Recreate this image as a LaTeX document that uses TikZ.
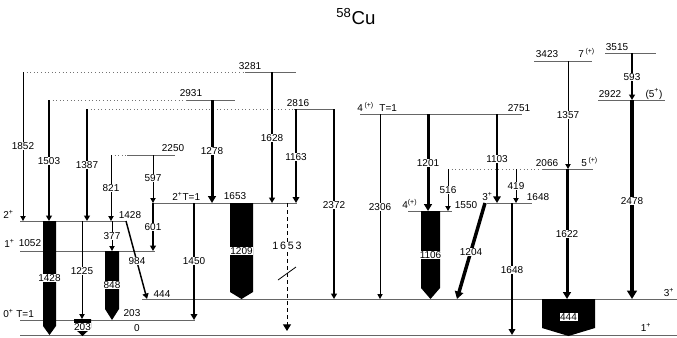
\documentclass[tikz,border=0pt]{standalone}
\usepackage{fontspec}
\setmainfont{Liberation Sans}
\usetikzlibrary{arrows.meta}
\newcommand\mylbl{\fontsize{7.5}{8}\selectfont}
\tikzset{
  lev/.style={draw=black!60, line width=0.7pt},
  ext/.style={draw=black!55, dotted, line width=0.7pt},
  tr/.style={-{Triangle[length=3pt 1.0, width=3pt 1.3]}},
  tl/.style={fill=white, inner sep=0.5pt, font=\mylbl},
  ll/.style={inner sep=0pt, font=\mylbl},
}
\newcommand\tra[6]{\draw[tr,line width=#6] (#1,#2) -- (#1,#3); \node[tl] (g#4) at (#1,#5) {#4};}
\newcommand\fatarr[5]{\fill (#1,#3) -- (#2,#3) -- (#2,#4) -- ({(#1+#2)/2},#5) -- (#1,#4) -- cycle;}
\begin{document}
\begin{tikzpicture}[x=0.75pt,y=-0.75pt]
\useasboundingbox (0,0) rectangle (677,337);
% title
\node[inner sep=0pt, anchor=base, font=\fontsize{14}{15}\selectfont] (title) at (356,24) {\textsuperscript{58}Cu};
% levels
\draw[lev] (20,335) -- (677,335);
\draw[lev] (20,320) -- (195,320);
\draw[lev] (142,299) -- (677,299);
\draw[lev] (20,251) -- (155,251);
\draw[lev] (20,221) -- (126,221);
\draw[lev] (153,203) -- (297,203);
\draw[lev] (408,211) -- (452,211);
\draw[lev] (487,203) -- (532,203);
\draw[ext] (448,169) -- (543,169); \draw[lev] (543,169) -- (593,169);
\draw[ext] (111,155) -- (127,155); \draw[lev] (127,155) -- (175,155);
\draw[lev] (360,114) -- (522,114);
\draw[ext] (87,109) -- (294,109); \draw[lev] (294,109) -- (334,109);
\draw[ext] (49,100) -- (187,100); \draw[lev] (187,100) -- (235,100);
\draw[ext] (23,72) -- (245,72); \draw[lev] (245,72) -- (296,72);
\draw[lev] (598,100) -- (665,100);
\draw[lev] (534,61) -- (592,61);
\draw[lev] (605,53) -- (656,53);
% level labels
\node[ll] (e3281) at (250,66) {3281};
\node[ll] (e2931) at (191,93) {2931};
\node[ll] (e2816) at (298,103) {2816};
\node[ll] (e2250) at (173,148) {2250};
\node[ll] (e2751) at (519,108) {2751};
\node[ll, anchor=west] (s2751) at (357,107) {4\,\textsuperscript{(+)}\ \ T=1};
\node[ll] (e2066) at (547,163) {2066};
\node[ll, anchor=west] (s2066) at (581,162) {5\,\textsuperscript{(+)}};
\node[ll] (e1550) at (466,205) {1550};
\node[ll, anchor=west] (s1550) at (402,204) {4\textsuperscript{(+)}};
\node[ll, anchor=west] (s1648) at (482,197) {3\textsuperscript{+}};
\node[ll] (e1648) at (538,197) {1648};
\node[ll] (e3423) at (547,54) {3423};
\node[ll, anchor=west] (s3423) at (578,53) {7\,\textsuperscript{(+)}};
\node[ll] (e3515) at (617,47) {3515};
\node[ll] (e2922) at (610,94) {2922};
\node[ll] (s2922) at (654,94) {(5\textsuperscript{+})};
\node[ll] (e1653) at (235,196) {1653};
\node[ll, anchor=west] (s1653) at (172,196) {2\textsuperscript{+}T=1};
\node[ll] (e1428) at (130,215) {1428};
\node[ll, anchor=west] (s1428) at (3,214) {2\textsuperscript{+}};
\node[ll, anchor=west] (s1052) at (4,243) {1\textsuperscript{+}};
\node[ll] (e1052) at (30,243) {1052};
\node[ll] (e444) at (162,294) {444};
\node[ll] (e203) at (132,313) {203};
\node[ll, anchor=west] (s203) at (3,314) {0\textsuperscript{+}\ T=1};
\node[ll] (e0) at (137,328) {0};
\node[ll] (s444) at (669,293) {3\textsuperscript{+}};
\node[ll] (s0) at (646,327) {1\textsuperscript{+}};
% fat arrows
\fatarr{43}{56}{221}{326}{335}
\node[tl] (g1428) at (49.5,278) {1428};
\fatarr{105}{119}{251}{309}{320}
\node[tl] (g848) at (112,285) {848};
\fatarr{230}{253}{203}{292}{299}
\node[tl] (g1209) at (241.5,251) {1209};
\fatarr{421}{440}{211}{288}{299}
\node[tl] (g1106) at (430.5,255) {1106};
\fatarr{542}{595}{299}{328}{336}
\node[tl] (g444) at (568.5,317) {444};
\fatarr{74}{91}{319}{328}{336}
\node[tl, inner sep=0.3pt] (g203) at (82.5,327) {203};
% transitions
\tra{23}{72}{221}{1852}{146}{0.75pt}
\tra{49}{100}{221}{1503}{161}{1.1pt}
\tra{87}{109}{221}{1387}{165}{1.1pt}
\tra{111}{155}{221}{821}{188}{0.75pt}
\tra{153}{155}{203}{597}{178}{0.75pt}
\tra{153}{203}{251}{601}{227}{1.1pt}
\tra{212}{100}{203}{1278}{151}{2.25pt}
\tra{272}{72}{203}{1628}{138}{1.1pt}
\tra{296}{109}{203}{1163}{157}{1.5pt}
\tra{334}{109}{299}{2372}{205}{1.1pt}
\tra{380}{114}{299}{2306}{207}{0.7pt}
\tra{428}{114}{211}{1201}{163}{2.25pt}
\tra{497}{114}{203}{1103}{159}{1.9pt}
\tra{448}{169}{211}{516}{190}{0.75pt}
\tra{516}{169}{203}{419}{186}{0.75pt}
\tra{568}{61}{169}{1357}{115}{0.75pt}
\tra{632}{53}{100}{593}{77}{1.1pt}
\tra{632}{100}{299}{2478}{201}{3.2pt}
\tra{567}{169}{299}{1622}{234}{2.25pt}
\tra{512}{203}{335}{1648}{270}{1.5pt}
\tra{194}{203}{320}{1450}{261}{1.5pt}
\tra{82}{221}{319}{1225}{271}{0.75pt}
\tra{112}{221}{251}{377}{236}{0.75pt}
% slanted transitions
\draw[tr, line width=2.6pt] (485,203) -- (457,299);
\node[tl] (g1204) at (471,252) {1204};
\draw[tr, line width=1.1pt] (126,221) -- (147,299);
\node[tl] (g984) at (137,261) {984};
% dashed 1653
\draw[dash pattern=on 3pt off 2.25pt, line width=0.75pt, -{Triangle[length=5pt,width=6pt]}] (287,203) -- (287,331);
\node[tl, font=\fontsize{8}{9}\selectfont] (g1653) at (287,246) {1\,6\,5\,3};
\draw[line width=0.6pt] (278,280) -- (296,267);
\end{tikzpicture}
\end{document}
